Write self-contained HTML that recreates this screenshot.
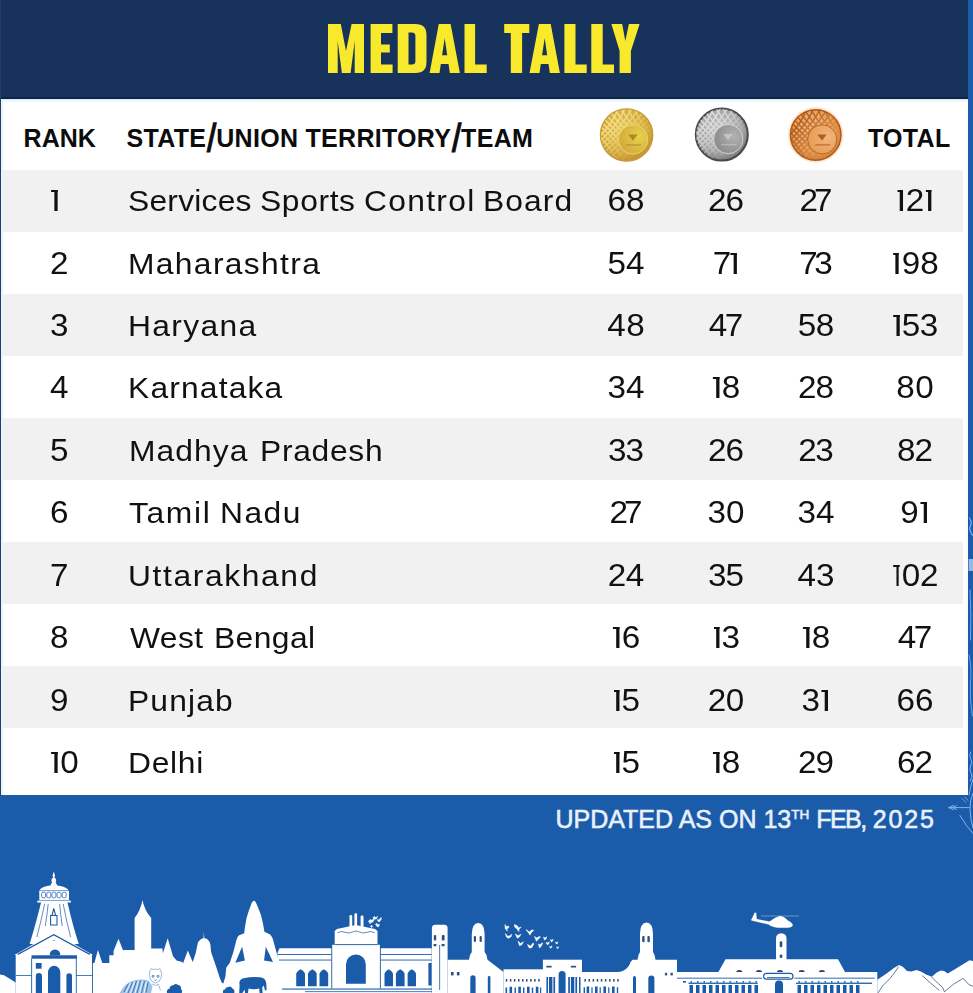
<!DOCTYPE html>
<html>
<head>
<meta charset="utf-8">
<title>Medal Tally</title>
<style>
html,body{margin:0;padding:0;}
body{width:973px;height:993px;position:relative;overflow:hidden;background:#fff;font-family:"Liberation Sans",sans-serif;}
.abs{position:absolute;}
#hdr{left:0;top:0;width:973px;height:99px;background:#17335c;}
#hdrline{left:0;top:97px;width:968px;height:2px;background:#0e2447;}
#lstrip{left:0;top:0;width:1.2px;height:795px;background:#21406c;}
#lstrip2{left:1.2px;top:99px;width:2px;height:696px;background:#e8f6fc;}
#rstrip{left:967.5px;top:0;width:5.5px;height:993px;background:#1b5caa;}
#foot{left:0;top:795px;width:973px;height:198px;background:#1b5caa;}
.row{left:3px;width:960px;height:62px;background:#f1f1f1;}
.h{font-weight:700;font-size:25px;line-height:30px;color:#0c0c0c;white-space:nowrap;}
.sl{display:inline-block;transform:scaleY(1.55) skewX(-9deg);transform-origin:50% 56%;margin:0 1.3px;-webkit-text-stroke:0.8px #0c0c0c;}
.t{font-size:30px;line-height:36px;color:#111;white-space:nowrap;}
.n{font-size:30.5px;line-height:36px;color:#111;white-space:nowrap;text-align:center;width:120px;transform:scaleX(1.09);transform-origin:50% 50%;}
.m{transform:scaleX(1.06);transform-origin:0 50%;}
.r{font-size:30.5px;transform:scaleX(1.09);transform-origin:0 50%;}
.o{display:inline-block;position:relative;width:0.3098em;height:0.7082em;vertical-align:baseline;}
.o:before{content:"";position:absolute;left:0.0481em;top:0;width:0.1835em;height:0.0820em;background:currentColor;}
.o:after{content:"";position:absolute;left:0.1324em;top:0;width:0.0963em;height:100%;background:currentColor;}
#upd{color:#e9f1fb;font-size:25px;-webkit-text-stroke:0.55px #e9f1fb;line-height:30px;white-space:nowrap;}
#upd sup{font-size:13.5px;line-height:0;vertical-align:baseline;position:relative;top:-9px;}
</style>
</head>
<body>
<div id="hdr" class="abs"></div>
<div id="hdrline" class="abs"></div>

<!-- zebra rows -->
<div class="abs row" style="top:170px"></div>
<div class="abs row" style="top:294px"></div>
<div class="abs row" style="top:418px"></div>
<div class="abs row" style="top:542px"></div>
<div class="abs row" style="top:666px"></div>

<div id="foot" class="abs"></div>
<div id="lstrip" class="abs"></div>
<div id="lstrip2" class="abs"></div>
<div id="rstrip" class="abs"></div>

<svg class="abs" style="left:0;top:0" width="973" height="99" viewBox="0 0 973 99">
<g fill="#f8e92c" fill-rule="evenodd">
<path d="M328 24H340.8L346 51L351.6 24H364V73H354.7V41L350.6 73H341.9L337.7 41V73H328Z"/>
<path d="M370.6 24H392.4V33H381V44.4H389.8V52.6H381V64.5H392.6V73H370.6Z"/>
<path d="M397.7 24H415.5Q426.5 24 426.5 35V62Q426.5 73 415.5 73H397.7ZM408.5 32.5V64.5H412Q415.4 64.5 415.4 61V36Q415.4 32.5 412 32.5Z"/>
<path d="M438.8 24H450.6L459.9 73H449.8L448.5 64H440.8L439.5 73H429.6ZM444.7 38L442.1 55.2H447.2Z"/>
<path d="M464.5 24H475.1V64.5H486.7V73H464.5Z"/>
<path d="M504.2 24H529.3V33.1H522.1V73H510.8V33.1H504.2Z"/>
<path d="M538.9 24H550.7L559.9 73H549.8L548.5 64H540.8L539.5 73H529.5ZM544.7 38L542.1 55.2H547.2Z"/>
<path d="M564.4 24H575.5V64.5H586.7V73H564.4Z"/>
<path d="M591.3 24H602.7V64.5H614V73H591.3Z"/>
<path d="M611.4 24H622.2L625.3 41L628.9 24H639.6L630.9 51V73H619.6V51Z"/>
</g>
</svg>

<!-- header labels -->
<div class="abs h" style="left:23.6px;top:122.9px;letter-spacing:0px">RANK</div>
<div class="abs h" style="left:126.6px;top:122.9px;letter-spacing:0.3px">STATE<span class="sl">/</span>UNION TERRITORY<span class="sl">/</span>TEAM</div>
<div class="abs h" style="left:868px;top:122.9px;letter-spacing:0.3px">TOTAL</div>

<!-- MEDALS -->
<svg class="abs" style="left:590px;top:100px" width="270" height="70" viewBox="590 100 270 70">
<defs><filter id="mblur" x="-10%" y="-10%" width="120%" height="120%"><feGaussianBlur stdDeviation="0.6"/></filter></defs>
<defs>
<radialGradient id="mgg" cx="0.45" cy="0.4" r="0.62"><stop offset="0" stop-color="#e4c657"/><stop offset="0.7" stop-color="#d5a93d"/><stop offset="1" stop-color="#c2922e"/></radialGradient>
<radialGradient id="mgi" cx="0.7" cy="0.4" r="0.8"><stop offset="0" stop-color="#e6d24c"/><stop offset="1" stop-color="#d0a43a"/></radialGradient>
<clipPath id="mgc"><circle cx="626.6" cy="135" r="25.6"/></clipPath>
<linearGradient id="mgm" x1="0" y1="0" x2="1" y2="1"><stop offset="0.25" stop-color="#fff"/><stop offset="0.75" stop-color="#000"/></linearGradient>
<mask id="mgk"><rect x="599.8000000000001" y="108.2" width="53.6" height="53.6" fill="url(#mgm)"/></mask>
</defs>
<g filter="url(#mblur)">
<circle cx="626.6" cy="135" r="26.2" fill="url(#mgg)" stroke="#c69a36" stroke-width="1.2"/>
<g mask="url(#mgk)"><g clip-path="url(#mgc)" fill="none" stroke="#fbf0a0" stroke-width="1.4" opacity="0.75"><path d="M564.8 161.8Q607.4 138.0 618.4 108.2"/><path d="M564.8 108.2Q602.4 132.0 618.4 161.8"/><path d="M571.8 161.8Q611.2 138.0 625.4 108.2"/><path d="M571.8 108.2Q606.2 132.0 625.4 161.8"/><path d="M578.8 161.8Q615.1 138.0 632.4 108.2"/><path d="M578.8 108.2Q610.1 132.0 632.4 161.8"/><path d="M585.8 161.8Q618.9 138.0 639.4 108.2"/><path d="M585.8 108.2Q613.9 132.0 639.4 161.8"/><path d="M592.8 161.8Q622.8 138.0 646.4 108.2"/><path d="M592.8 108.2Q617.8 132.0 646.4 161.8"/><path d="M599.8 161.8Q626.6 138.0 653.4 108.2"/><path d="M599.8 108.2Q621.6 132.0 653.4 161.8"/><path d="M606.8 161.8Q630.5 138.0 660.4 108.2"/><path d="M606.8 108.2Q625.5 132.0 660.4 161.8"/><path d="M613.8 161.8Q634.3 138.0 667.4 108.2"/><path d="M613.8 108.2Q629.3 132.0 667.4 161.8"/><path d="M620.8 161.8Q638.1 138.0 674.4 108.2"/><path d="M620.8 108.2Q633.1 132.0 674.4 161.8"/><path d="M627.8 161.8Q642.0 138.0 681.4 108.2"/><path d="M627.8 108.2Q637.0 132.0 681.4 161.8"/><path d="M634.8 161.8Q645.9 138.0 688.4 108.2"/><path d="M634.8 108.2Q640.9 132.0 688.4 161.8"/></g></g>
<circle cx="633.1" cy="139.5" r="14.6" fill="url(#mgi)" stroke="#ecd66a" stroke-width="0.9"/>
<path d="M626.1 145.0H641.1" stroke="#9c761a" stroke-width="1.3" opacity="0.55"/>
<path d="M628.1 134.5h9.5l-4.7 6.2z" fill="#9c761a" opacity="0.75"/>
</g>
<defs>
<radialGradient id="msg" cx="0.45" cy="0.4" r="0.62"><stop offset="0" stop-color="#c6c6c6"/><stop offset="0.7" stop-color="#a4a4a4"/><stop offset="1" stop-color="#767676"/></radialGradient>
<radialGradient id="msi" cx="0.7" cy="0.4" r="0.8"><stop offset="0" stop-color="#b2b2b2"/><stop offset="1" stop-color="#868686"/></radialGradient>
<clipPath id="msc"><circle cx="721.8" cy="134.6" r="25.8"/></clipPath>
<linearGradient id="msm" x1="0" y1="0" x2="1" y2="1"><stop offset="0.25" stop-color="#fff"/><stop offset="0.75" stop-color="#000"/></linearGradient>
<mask id="msk"><rect x="694.8" y="107.6" width="54.0" height="54.0" fill="url(#msm)"/></mask>
</defs>
<g filter="url(#mblur)">
<circle cx="721.8" cy="134.6" r="26.0" fill="url(#msg)" stroke="#4a4a4a" stroke-width="2.0"/>
<g mask="url(#msk)"><g clip-path="url(#msc)" fill="none" stroke="#ffffff" stroke-width="1.4" opacity="0.6"><path d="M659.8 161.6Q702.5 137.6 713.8 107.6"/><path d="M659.8 107.6Q697.5 131.6 713.8 161.6"/><path d="M666.8 161.6Q706.4 137.6 720.8 107.6"/><path d="M666.8 107.6Q701.4 131.6 720.8 161.6"/><path d="M673.8 161.6Q710.2 137.6 727.8 107.6"/><path d="M673.8 107.6Q705.2 131.6 727.8 161.6"/><path d="M680.8 161.6Q714.1 137.6 734.8 107.6"/><path d="M680.8 107.6Q709.1 131.6 734.8 161.6"/><path d="M687.8 161.6Q717.9 137.6 741.8 107.6"/><path d="M687.8 107.6Q712.9 131.6 741.8 161.6"/><path d="M694.8 161.6Q721.8 137.6 748.8 107.6"/><path d="M694.8 107.6Q716.8 131.6 748.8 161.6"/><path d="M701.8 161.6Q725.6 137.6 755.8 107.6"/><path d="M701.8 107.6Q720.6 131.6 755.8 161.6"/><path d="M708.8 161.6Q729.5 137.6 762.8 107.6"/><path d="M708.8 107.6Q724.5 131.6 762.8 161.6"/><path d="M715.8 161.6Q733.3 137.6 769.8 107.6"/><path d="M715.8 107.6Q728.3 131.6 769.8 161.6"/><path d="M722.8 161.6Q737.2 137.6 776.8 107.6"/><path d="M722.8 107.6Q732.2 131.6 776.8 161.6"/><path d="M729.8 161.6Q741.0 137.6 783.8 107.6"/><path d="M729.8 107.6Q736.0 131.6 783.8 161.6"/></g></g>
<circle cx="728.3" cy="139.1" r="14.6" fill="url(#msi)" stroke="#d8d8d8" stroke-width="0.9"/>
<path d="M721.3 144.6H736.3" stroke="#d0d0d0" stroke-width="1.3" opacity="0.55"/>
<path d="M723.3 134.1h9.5l-4.7 6.2z" fill="#d0d0d0" opacity="0.75"/>
</g>
<defs>
<radialGradient id="mbg" cx="0.45" cy="0.4" r="0.62"><stop offset="0" stop-color="#f3ba80"/><stop offset="0.7" stop-color="#e99e58"/><stop offset="1" stop-color="#d27e36"/></radialGradient>
<radialGradient id="mbi" cx="0.7" cy="0.4" r="0.8"><stop offset="0" stop-color="#f2b67c"/><stop offset="1" stop-color="#e6984e"/></radialGradient>
<clipPath id="mbc"><circle cx="815.7" cy="134.9" r="24.8"/></clipPath>
<linearGradient id="mbm" x1="0" y1="0" x2="1" y2="1"><stop offset="0.25" stop-color="#fff"/><stop offset="0.75" stop-color="#000"/></linearGradient>
<mask id="mbk"><rect x="789.7" y="108.9" width="52.0" height="52.0" fill="url(#mbm)"/></mask>
</defs>
<g filter="url(#mblur)">
<circle cx="815.7" cy="134.9" r="27.8" fill="#fde6d0"/>
<circle cx="815.7" cy="134.9" r="25.25" fill="url(#mbg)" stroke="#b05818" stroke-width="1.5"/>
<g mask="url(#mbk)"><g clip-path="url(#mbc)" fill="none" stroke="#9c460a" stroke-width="1.4" opacity="0.75"><path d="M754.7 160.9Q796.5 137.9 806.7 108.9"/><path d="M754.7 108.9Q791.5 131.9 806.7 160.9"/><path d="M761.7 160.9Q800.3 137.9 813.7 108.9"/><path d="M761.7 108.9Q795.3 131.9 813.7 160.9"/><path d="M768.7 160.9Q804.2 137.9 820.7 108.9"/><path d="M768.7 108.9Q799.2 131.9 820.7 160.9"/><path d="M775.7 160.9Q808.0 137.9 827.7 108.9"/><path d="M775.7 108.9Q803.0 131.9 827.7 160.9"/><path d="M782.7 160.9Q811.9 137.9 834.7 108.9"/><path d="M782.7 108.9Q806.9 131.9 834.7 160.9"/><path d="M789.7 160.9Q815.7 137.9 841.7 108.9"/><path d="M789.7 108.9Q810.7 131.9 841.7 160.9"/><path d="M796.7 160.9Q819.6 137.9 848.7 108.9"/><path d="M796.7 108.9Q814.6 131.9 848.7 160.9"/><path d="M803.7 160.9Q823.4 137.9 855.7 108.9"/><path d="M803.7 108.9Q818.4 131.9 855.7 160.9"/><path d="M810.7 160.9Q827.2 137.9 862.7 108.9"/><path d="M810.7 108.9Q822.2 131.9 862.7 160.9"/><path d="M817.7 160.9Q831.1 137.9 869.7 108.9"/><path d="M817.7 108.9Q826.1 131.9 869.7 160.9"/><path d="M824.7 160.9Q835.0 137.9 876.7 108.9"/><path d="M824.7 108.9Q830.0 131.9 876.7 160.9"/></g></g>
<circle cx="822.2" cy="139.4" r="14.6" fill="url(#mbi)" stroke="#b6601e" stroke-width="0.9"/>
<path d="M815.2 144.9H830.2" stroke="#96460e" stroke-width="1.3" opacity="0.55"/>
<path d="M817.2 134.4h9.5l-4.7 6.2z" fill="#96460e" opacity="0.75"/>
</g>
</svg>

<!-- ROWS -->
<div class="abs t r" style="left:50.2px;top:182.25px;letter-spacing:0px"><i class="o"></i></div><div class="abs t m" style="left:128.38px;top:182.75px;letter-spacing:0.21px">Services</div><div class="abs t m" style="left:260.46px;top:182.75px;letter-spacing:0.58px">Sports</div><div class="abs t m" style="left:364.44px;top:182.75px;letter-spacing:1.22px">Control</div><div class="abs t m" style="left:482.54px;top:182.75px;letter-spacing:1.03px">Board</div><div class="abs n" style="left:565.7px;top:182.25px;letter-spacing:0.11px;text-indent:0.11px">68</div><div class="abs n" style="left:666.2px;top:182.25px;letter-spacing:-0.81px;text-indent:-0.81px">26</div><div class="abs n" style="left:755.9px;top:182.25px;letter-spacing:-3.56px;text-indent:-3.56px">27</div><div class="abs n" style="left:854.5px;top:182.25px;letter-spacing:-0.27px;text-indent:0px"><i class="o" style="margin-right:-0.27px"></i>2<i class="o"></i></div>
<div class="abs t r" style="left:50.3px;top:245.25px;letter-spacing:0px">2</div><div class="abs t m" style="left:128.22px;top:245.75px;letter-spacing:1.26px">Maharashtra</div><div class="abs n" style="left:565.7px;top:245.25px;letter-spacing:0.11px;text-indent:0.11px">54</div><div class="abs n" style="left:666.2px;top:245.25px;letter-spacing:-2.29px;text-indent:0px">7<i class="o"></i></div><div class="abs n" style="left:755.9px;top:245.25px;letter-spacing:-3.1px;text-indent:-3.1px">73</div><div class="abs n" style="left:854.5px;top:245.25px;letter-spacing:0.01px;text-indent:0.01px"><i class="o" style="margin-right:0.01px"></i>98</div>
<div class="abs t r" style="left:50.3px;top:307.25px;letter-spacing:0px">3</div><div class="abs t m" style="left:127.88px;top:307.75px;letter-spacing:1.27px">Haryana</div><div class="abs n" style="left:565.7px;top:307.25px;letter-spacing:0.57px;text-indent:0.57px">48</div><div class="abs n" style="left:666.2px;top:307.25px;letter-spacing:-2.19px;text-indent:-2.19px">47</div><div class="abs n" style="left:755.9px;top:307.25px;letter-spacing:-0.35px;text-indent:-0.35px">58</div><div class="abs n" style="left:854.5px;top:307.25px;letter-spacing:-0.45px;text-indent:-0.45px"><i class="o" style="margin-right:-0.45px"></i>53</div>
<div class="abs t r" style="left:50.3px;top:369.25px;letter-spacing:0px">4</div><div class="abs t m" style="left:127.88px;top:369.75px;letter-spacing:1.1px">Karnataka</div><div class="abs n" style="left:565.7px;top:369.25px;letter-spacing:0.11px;text-indent:0.11px">34</div><div class="abs n" style="left:666.2px;top:369.25px;letter-spacing:-0.45px;text-indent:-0.45px"><i class="o" style="margin-right:-0.45px"></i>8</div><div class="abs n" style="left:755.9px;top:369.25px;letter-spacing:-0.81px;text-indent:-0.81px">28</div><div class="abs n" style="left:854.5px;top:369.25px;letter-spacing:0.57px;text-indent:0.57px">80</div>
<div class="abs t r" style="left:50.3px;top:432.25px;letter-spacing:0px">5</div><div class="abs t m" style="left:128.8px;top:432.75px;letter-spacing:1.02px">Madhya</div><div class="abs t m" style="left:259.54px;top:432.75px;letter-spacing:0.65px">Pradesh</div><div class="abs n" style="left:565.7px;top:432.25px;letter-spacing:-0.81px;text-indent:-0.81px">33</div><div class="abs n" style="left:666.2px;top:432.25px;letter-spacing:-0.81px;text-indent:-0.81px">26</div><div class="abs n" style="left:755.9px;top:432.25px;letter-spacing:-1.27px;text-indent:-1.27px">23</div><div class="abs n" style="left:854.5px;top:432.25px;letter-spacing:-0.81px;text-indent:-0.81px">82</div>
<div class="abs t r" style="left:50.3px;top:494.25px;letter-spacing:0px">6</div><div class="abs t m" style="left:129.26px;top:494.75px;letter-spacing:1.54px">Tamil</div><div class="abs t m" style="left:219.54px;top:494.75px;letter-spacing:1.39px">Nadu</div><div class="abs n" style="left:565.7px;top:494.25px;letter-spacing:-3.56px;text-indent:-3.56px">27</div><div class="abs n" style="left:666.2px;top:494.25px;letter-spacing:0.11px;text-indent:0.11px">30</div><div class="abs n" style="left:755.9px;top:494.25px;letter-spacing:0.11px;text-indent:0.11px">34</div><div class="abs n" style="left:854.5px;top:494.25px;letter-spacing:0.47px;text-indent:0px">9<i class="o"></i></div>
<div class="abs t r" style="left:50.3px;top:557.25px;letter-spacing:0px">7</div><div class="abs t m" style="left:127.88px;top:557.75px;letter-spacing:1.52px">Uttarakhand</div><div class="abs n" style="left:565.7px;top:557.25px;letter-spacing:-0.35px;text-indent:-0.35px">24</div><div class="abs n" style="left:666.2px;top:557.25px;letter-spacing:-0.81px;text-indent:-0.81px">35</div><div class="abs n" style="left:755.9px;top:557.25px;letter-spacing:0.11px;text-indent:0.11px">43</div><div class="abs n" style="left:854.5px;top:557.25px;letter-spacing:-0.22px;text-indent:-0.22px"><i class="o" style="margin-right:-0.22px"></i>02</div>
<div class="abs t r" style="left:50.3px;top:619.25px;letter-spacing:0px">8</div><div class="abs t m" style="left:129.68px;top:619.75px;letter-spacing:0.37px">West</div><div class="abs t m" style="left:213.54px;top:619.75px;letter-spacing:0.38px">Bengal</div><div class="abs n" style="left:565.7px;top:619.25px;letter-spacing:-0.45px;text-indent:-0.45px"><i class="o" style="margin-right:-0.45px"></i>6</div><div class="abs n" style="left:666.2px;top:619.25px;letter-spacing:-0.91px;text-indent:-0.91px"><i class="o" style="margin-right:-0.91px"></i>3</div><div class="abs n" style="left:755.9px;top:619.25px;letter-spacing:-0.45px;text-indent:-0.45px"><i class="o" style="margin-right:-0.45px"></i>8</div><div class="abs n" style="left:854.5px;top:619.25px;letter-spacing:-2.19px;text-indent:-2.19px">47</div>
<div class="abs t r" style="left:50.3px;top:682.25px;letter-spacing:0px">9</div><div class="abs t m" style="left:127.88px;top:682.75px;letter-spacing:1.09px">Punjab</div><div class="abs n" style="left:565.7px;top:682.25px;letter-spacing:-0.91px;text-indent:-0.91px"><i class="o" style="margin-right:-0.91px"></i>5</div><div class="abs n" style="left:666.2px;top:682.25px;letter-spacing:-0.35px;text-indent:-0.35px">20</div><div class="abs n" style="left:755.9px;top:682.25px;letter-spacing:0.01px;text-indent:0px">3<i class="o"></i></div><div class="abs n" style="left:854.5px;top:682.25px;letter-spacing:0.11px;text-indent:0.11px">66</div>
<div class="abs t r" style="left:50.2px;top:744.25px;letter-spacing:0.01px"><i class="o" style="margin-right:0.01px"></i>0</div><div class="abs t m" style="left:127.88px;top:744.75px;letter-spacing:0.65px">Delhi</div><div class="abs n" style="left:565.7px;top:744.25px;letter-spacing:-0.91px;text-indent:-0.91px"><i class="o" style="margin-right:-0.91px"></i>5</div><div class="abs n" style="left:666.2px;top:744.25px;letter-spacing:-0.45px;text-indent:-0.45px"><i class="o" style="margin-right:-0.45px"></i>8</div><div class="abs n" style="left:755.9px;top:744.25px;letter-spacing:-0.81px;text-indent:-0.81px">29</div><div class="abs n" style="left:854.5px;top:744.25px;letter-spacing:-0.81px;text-indent:-0.81px">62</div>

<!-- FOOTER -->
<div id="upd" class="abs" style="left:555.5px;top:803.5px">UPDATED AS ON 13<sup>TH</sup> <span style="letter-spacing:-1.5px">FEB,</span> <span style="letter-spacing:1.9px">2025</span></div>

<!-- DECO -->
<div class="abs" style="left:2px;top:99px;width:966px;height:4px;background:linear-gradient(#d6e8f4,#f4fafd 60%,#fff)"></div>
<svg class="abs" style="left:940px;top:500px" width="33" height="360" viewBox="940 500 33 360">
<g fill="none" stroke="#7db4ec" stroke-width="1" stroke-linecap="round">
<path d="M948.6 807.6H969.5"/>
<path d="M953.5 805.4L948.8 807.6L953.5 809.8M956.5 805.6L952.6 807.6L956.5 809.6"/>
<path d="M973 793Q969.6 801 970 809Q970.4 820 973 828"/>
<path d="M960 815.5Q966 826 973 833.5"/>
<path d="M962 798.5L966 802.5M964.8 797L968 800.5" stroke-width="0.8"/>
<path d="M970.5 752Q968.6 756 971 759.5Q973 762 970.5 766Q968.8 770 971.5 774Q973 777 970.2 781"/>
<path d="M969 795Q970.5 786 973 779"/>
<path d="M969.5 518Q972.5 522 970 527Q969 531 972.5 535" stroke-width="1.2"/>
<path d="M970 590Q971.5 615 970.5 640" stroke-width="0.9"/>
<path d="M969 655Q972 668 970.4 684Q969.6 700 972.4 716" stroke-width="0.8"/>
</g>
<rect x="968.6" y="559" width="4.4" height="12" fill="#a9c9ee" opacity="0.85"/>
</svg>

<!-- SKYLINE -->
<svg class="abs" style="left:0;top:860px" width="973" height="133" viewBox="0 860 973 133">
<g fill="#fff">
<!-- left hill -->
<path d="M0 974.5L4 975.2L15.7 982.5V993H0Z"/>
<!-- temple -->
<path d="M53.8 871.5L55 875.5L54.4 877.5Q57.2 879.5 55.6 882.5L57.5 885.8H50.1L52 882.5Q50.4 879.5 53.2 877.5L52.6 875.5Z"/>
<path d="M39.3 891.5Q39.5 887.5 47 886Q53.8 884.6 60.6 886Q68.2 887.5 69 891.5Z"/>
<rect x="39.3" y="890.5" width="29.7" height="10.5"/>
<rect x="37.3" y="900.3" width="33.6" height="2.2"/>
<path d="M41.2 902H67.4Q72.8 926 78.8 944H29.6Q35.2 926 41.2 902Z"/>
<path d="M53.8 932.3L93 955H14.5Z"/>
<rect x="15.7" y="954" width="76.3" height="39"/>
<!-- castle + dome + shiva -->
<path d="M92.6 993V963H94.4L97.9 950L102.3 963H109.3V955.3H113.6V951L118.5 938.7L123.3 951V950H134.6V918Q140.2 911 142.5 900.2Q144.8 911 151.2 918V948.6H162.4L162.9 953.3L167.7 938.2L173 956.2L176.6 960.5L182.3 962L183 963.4L187.8 950.4L192.7 962L193.8 959L196 951.9L197.4 944.7Q198.2 940.8 200.5 939.4Q202.5 938.2 203.5 938.2L203.9 931.7L204.3 938.2Q206 938.2 207.6 939.6Q209.8 941.5 210.4 944.7L211.1 951.9L214 960.5L216.9 969.1L219.7 977.8L221.9 982.8L223.3 983.5L225.5 976.3L226.2 967.7L229.8 962.7L233.4 951.9L236.3 940.4Q237.4 936.4 239.2 935.3L244.2 933.2L244.9 927.4L246.4 918.8L248.5 911.6L250.7 905.8Q252 901.2 253.8 900.8Q255.2 900.8 255.9 902.4L257.9 907.3L260.8 914.5L262.9 923.1L264.4 931.7L270.1 934.6Q272 936.6 273 939.6L275.1 947.6L278 957.6L280.9 964.8L282.4 970.6V993Z"/>
<!-- building A (wings + centre) -->
<path d="M277.5 993V953L279.5 948.3H431.7V993Z"/>
<rect x="332" y="944.8" width="48" height="48"/>
<path d="M334.7 944.8V931L337 929L355.7 925L375 929L377.5 931V944.8Z"/>
<rect x="349.5" y="915" width="2.7" height="13" rx="1.2"/>
<rect x="354.4" y="913.3" width="2.7" height="14" rx="1.2"/>
<rect x="360.6" y="915.6" width="2.9" height="13" rx="1.2"/>
<!-- tower 1 -->
<path d="M431.9 993V928Q431.9 925 435 924.8H444.5Q447.6 925 447.6 928V993Z"/>
<!-- building B with dome tower -->
<path d="M447.6 993V959.7H469L470 955L471.8 952V934Q472 923.4 478.2 923Q484.4 923.4 484.6 934V952L486.5 955L487.5 959.7L503.5 972V993Z"/>
<!-- building C -->
<rect x="503.5" y="969.3" width="39.5" height="24"/>
<!-- building D -->
<rect x="542.9" y="959.7" width="39.1" height="34"/>
<!-- building E -->
<path d="M582 993V972H617Q624 972 628 967Q630.5 963 632.5 959.7V993Z"/>
<!-- building F -->
<path d="M630 993V963L632.5 959.7H637.5L638.5 955L640 952V934Q640.2 923 646.5 922.6Q652.8 923 653 934V952L654.5 955L655.5 959.7H677V993Z"/>
<!-- station G -->
<path d="M677 993V972H718.4L725.5 959.3H838L845 972H877.3V993Z"/>
<path d="M776 960V938.5Q776 933.6 781.3 933.3Q786.5 933.6 786.5 938.5V960Z"/>
<!-- helicopter -->
<path d="M751 920.2L754.8 912.6L756.2 912.8L756.8 919L769.5 921.6Q774 917.6 779.5 916Q784.5 916.2 787.5 920.2Q792.6 922.8 792.8 925.2Q792.4 927.6 787.5 927.8H777.5Q771.5 927.2 768.6 924.6L753.4 921Z"/>
<!-- mountains -->
<path d="M877.3 993V979.8L885.9 974.1L894.3 967.8L899.1 965.1L902.8 966.7L907 970.9L911.3 971.5L916.6 969.9L920.8 971.5L926.1 974.6L931.9 976.8L936.7 972.5L940.9 970.4L944.1 970.9L947.8 973.6L953.6 969.9L961 965.6L969.5 960.3L973 960.9V993Z"/>
</g>
<path d="M761 916H799" stroke="#cfe0f4" stroke-width="0.6" opacity="0.7"/>
<!-- birds -->
<g fill="#fff" stroke="#fff" stroke-width="0.55" stroke-linejoin="round">
<path d="M368.5 921l2-1.5 1.5 1 1.5-2 0.8 1.2-1.8 2.5-1.6 0-0.8 1.6z"/>
<path d="M373 917.5l1.6-1 1.2 1.2 1.8-1.4-1.2 2.6-2 0.2z"/>
<path d="M377.5 919.5l1.5 0.5 2-2.5 0.5 1.2-2 3-1.6-0.4z"/>
<path d="M375.5 924l1.5-0.6 1 1.6 1.4-1 -0.6 2.6-1.8 0z"/>
<path d="M370.5 926l1.2-0.6 1 1.2-1.2 1z"/>
<path d="M505 924.5l1.8 2.6 1.6-1.2 0.6 1.4-2.2 1.8 0.6 2-2.2-2.6z"/>
<path d="M505.5 933.5l2 2.8 2.6-0.6 1.6-1.6-0.6 2.6-2.8 1.6-2-1.4z"/>
<path d="M514.5 924.5l3 1.4 1 2 2.6-0.8-2 2.2-0.4 2.2-1.6-2.6-2.4-1.8z"/>
<path d="M515.5 934l2.6 1.8 2.8-1.6-1.4 2.6-2 1.4-1.2-2z"/>
<path d="M518 941l2.4 2.6 3-1.8-1.4 2.8-2.4 1.2z"/>
<path d="M526 929.5l3.4 2.6 2-2 2.4 0.2-2.8 2.6-1 2.2-1.6-2.4z"/>
<path d="M527.5 944.5l3.2 1.6 2.4-3.2 0.8 1-2.4 4-2.4 0z"/>
<path d="M534.5 936.5l2.4 1.6 2.2-1.6 1.4 0.4-2.6 2.6-1.4 1.8z"/>
<path d="M538.5 944l1.8 0.8 1.6-2 0.8 0.8-1.8 3-1.4 1.4z"/>
<path d="M543.5 937l1.6 1 1.6-1.2-0.6 2.2-1.6 1z"/>
<path d="M546 942.5l1.6 0.6 1.4-1.4 0 1.8-1.6 1.4z"/>
<path d="M550.5 939.5l1.4 0.8 1.2-1 -0.4 1.8-1.4 0.8z"/>
<path d="M549.5 946.5l1.2 0.4 1-1.2 0.2 1.6-1.4 1z"/>
<path d="M555.5 942l1.2 0.6 1-0.8-0.2 1.6-1.2 0.6z"/>
<path d="M556.5 947l1 0.4 0.8-0.8 0 1.4-1 0.6z"/>
</g>
<!-- blue details -->
<g fill="#1b5caa">
<!-- temple details -->
<path d="M55 949.5A5.3 5.3 0 0 1 60.3 955.5H49.7A5.3 5.3 0 0 1 55 949.5Z"/>
<rect x="31.5" y="955.3" width="45.5" height="3.4"/>
<path d="M48 993V972A6.15 6.15 0 0 1 60.3 972V993Z"/>
<path d="M35.8 993V976A3.1 3.1 0 0 1 42 976V993Z"/>
<path d="M66.4 993V976A2.8 2.8 0 0 1 72 976V993Z"/>
<rect x="35.8" y="963" width="5.8" height="5.7"/>
<rect x="31.2" y="958.5" width="0.9" height="34.5"/>
<rect x="75.8" y="958.5" width="0.9" height="34.5"/>
<rect x="15.7" y="975.2" width="15.8" height="0.8"/>
<rect x="76" y="975.2" width="16" height="0.8"/>
<rect x="92" y="957" width="0.7" height="36"/>
<!-- shiva arm gaps -->
<path d="M235.3 962.7L242.1 946.8L244.9 960.5Z"/>
<path d="M264.1 960.5L265.8 946.8L273 962Z"/>
<!-- elephant -->
<path d="M239.2 993L239.6 985Q238.4 979.4 243.5 978.2Q252 976.4 260 977.2Q265.2 977.8 266.2 982.5L266.6 990L265 990.6L263.8 985.5L262.2 987.5L262.6 993H259.6L259.2 988.6Q253 990 248.6 988.6L248 993H245L244.6 989.4L242.4 993Z"/>
<!-- bushes -->
<path d="M167 993Q166 989.5 169.5 988.8Q169.8 985 173.5 985.2Q175.5 983 178 985Q181.6 985.4 181 989Q183 990.5 181.8 993Z"/>
<path d="M223 993Q222.4 990 225 989.6Q225.6 986.6 228.6 987Q231.2 985.8 232.2 988.4Q235 989 234.3 993Z"/>
<!-- building A details -->
<rect x="277.5" y="954" width="54" height="0.9"/>
<rect x="279" y="959.6" width="52.5" height="0.9"/>
<rect x="380.5" y="954" width="51.2" height="0.9"/>
<rect x="380.5" y="959.6" width="51.2" height="0.9"/>
<rect x="331.3" y="944.8" width="0.9" height="43.7"/>
<rect x="379.9" y="944.8" width="0.9" height="43.7"/>
<rect x="334.7" y="944.2" width="42.8" height="0.9"/><path d="M337.5 932.8Q341 930.6 345 932.2Q349 934 352.5 932Q356 930 359.5 932Q363 934 367 932.2Q371 930.6 374.8 932.8" fill="none" stroke="#1b5caa" stroke-width="0.7"/>
<path d="M346 983.8V964.3A9.9 9.9 0 0 1 365.8 964.3V983.8Z"/>
<path d="M296.2 986.2V974Q296.2 972 300.6 969.3Q305 972 305 974V986.2Z"/>
<path d="M308 986.2V974Q308 972 312.4 969.3Q316.7 972 316.7 974V986.2Z"/>
<path d="M319.5 986.2V974Q319.5 972 323.9 969.3Q328.2 972 328.2 974V986.2Z"/>
<path d="M384.5 986.2V974Q384.5 972 388.8 969.3Q393 972 393 974V986.2Z"/>
<path d="M395.9 986.2V974Q395.9 972 400.2 969.3Q404.6 972 404.6 974V986.2Z"/>
<path d="M407.6 986.2V974Q407.6 972 411.8 969.3Q416 972 416 974V986.2Z"/>
<rect x="428.4" y="963" width="3.2" height="22.5"/>
<rect x="282" y="988.5" width="150" height="1.1"/>
<rect x="305" y="991.3" width="127" height="0.8"/>
<!-- tower 1 -->
<rect x="439.3" y="945" width="0.8" height="45"/>
<!-- building B -->
<path d="M470.3 993V978A2.65 2.65 0 0 1 475.6 978V993Z"/>
<path d="M487.8 993V977.3A1.3 1.3 0 0 1 490.4 977.3V993Z"/>
<!-- building C windows lower -->
<path d="M505.5 987.6h1.6V993h-1.6zM509.5 986.8h2.6V993h-2.6zM514.5 987.6h1.4V993h-1.4zM518.3 986.8h2.6V993h-2.6zM523 987.6h1.4V993h-1.4zM527 986.8h2.6V993h-2.6zM531.8 987.6h1.4V993h-1.4zM535.8 986.8h2.6V993h-2.6zM540 987.6h1.2V993h-1.2z"/>
<!-- building D -->
<path d="M546.4 993V977h1.6v16zM549 993V977h3.4v16zM553.4 993V977h1.7v16z"/>
<path d="M558.6 993V974.5A3.5 3.5 0 0 1 565.6 974.5V993Z"/>
<path d="M568.2 993V977h1.7v16zM570.9 993V977h3.4v16zM575.4 993V977h1.7v16zM579 993V977h1.5v16z"/>
<!-- building E lower windows -->
<path d="M583.6 987.2h1.4V993h-1.4zM586.6 986.4h2.6V993h-2.6zM591.4 987.2h1.2V993h-1.2zM595 986.4h2.6V993h-2.6zM599.6 987.2h1.2V993h-1.2zM603.4 986.4h2.6V993h-2.6zM608.2 987.2h1.2V993h-1.2zM612 986.4h2.6V993h-2.6zM616.8 987.2h1.4V993h-1.4z"/>
<!-- building F -->
<path d="M633 993V977.5A1.5 1.5 0 0 1 636 977.5V993Z"/>
<path d="M648.3 993V978.5A3.05 3.05 0 0 1 654.4 978.5V993Z"/>
<!-- station G -->
<rect x="677" y="977.7" width="85" height="0.9"/>
<rect x="794.4" y="977.7" width="80.3" height="0.9"/>
<rect x="688.5" y="982.6" width="69.2" height="1.3"/>
<rect x="796" y="982.6" width="76" height="1.3"/>
<rect x="763.6" y="973.4" width="29.4" height="5.8" rx="2.9" fill="none" stroke="#1b5caa" stroke-width="1.2"/>
<rect x="767" y="977.2" width="22.5" height="0.8"/>
<path d="M775 993V984.6A4 4 0 0 1 783 984.6V993Z"/>
<path d="M736.3 972A3 2 0 0 1 742.3 972ZM756 972A3 2 0 0 1 762 972ZM777 972A3 2 0 0 1 783 972ZM798.7 972A3 2 0 0 1 804.7 972ZM818.9 972A3 2 0 0 1 824.9 972Z" fill="#27466e"/>
<rect x="689.5" y="985" width="3.5" height="8"/><circle cx="691.25" cy="981.8" r="0.9"/><rect x="696.0" y="985" width="3.5" height="8"/><circle cx="697.75" cy="981.8" r="0.9"/><rect x="702.5" y="985" width="3.5" height="8"/><circle cx="704.25" cy="981.8" r="0.9"/><rect x="709.0" y="985" width="3.5" height="8"/><circle cx="710.75" cy="981.8" r="0.9"/><rect x="715.5" y="985" width="3.5" height="8"/><circle cx="717.25" cy="981.8" r="0.9"/><rect x="722.0" y="985" width="3.5" height="8"/><circle cx="723.75" cy="981.8" r="0.9"/><rect x="728.5" y="985" width="3.5" height="8"/><circle cx="730.25" cy="981.8" r="0.9"/><rect x="735.0" y="985" width="3.5" height="8"/><circle cx="736.75" cy="981.8" r="0.9"/><rect x="741.5" y="985" width="3.5" height="8"/><circle cx="743.25" cy="981.8" r="0.9"/><rect x="748.0" y="985" width="3.5" height="8"/><circle cx="749.75" cy="981.8" r="0.9"/><rect x="754.5" y="985" width="3.5" height="8"/><circle cx="756.25" cy="981.8" r="0.9"/><rect x="797.5" y="985" width="3.5" height="8"/><circle cx="799.25" cy="981.8" r="0.9"/><rect x="804.0" y="985" width="3.5" height="8"/><circle cx="805.75" cy="981.8" r="0.9"/><rect x="810.5" y="985" width="3.5" height="8"/><circle cx="812.25" cy="981.8" r="0.9"/><rect x="817.0" y="985" width="3.5" height="8"/><circle cx="818.75" cy="981.8" r="0.9"/><rect x="823.5" y="985" width="3.5" height="8"/><circle cx="825.25" cy="981.8" r="0.9"/><rect x="830.0" y="985" width="3.5" height="8"/><circle cx="831.75" cy="981.8" r="0.9"/><rect x="836.5" y="985" width="3.5" height="8"/><circle cx="838.25" cy="981.8" r="0.9"/><rect x="843.0" y="985" width="3.5" height="8"/><circle cx="844.75" cy="981.8" r="0.9"/><rect x="849.5" y="985" width="3.5" height="8"/><circle cx="851.25" cy="981.8" r="0.9"/><rect x="856.0" y="985" width="3.5" height="8"/><circle cx="857.75" cy="981.8" r="0.9"/></g>
<g fill="#2f4f7c"><rect x="433.8" y="935" width="2.4" height="5.6" rx="1"/><rect x="441.8" y="935" width="2.8" height="5.6" rx="1"/><rect x="433.6" y="944" width="2.8" height="2.2"/><rect x="441.6" y="944" width="3" height="2.2"/><rect x="473.8" y="936" width="2.2" height="6" rx="1"/><rect x="479.6" y="936" width="2.2" height="6" rx="1"/><rect x="451" y="972" width="2.6" height="3.4"/><rect x="456.9" y="972" width="2.6" height="3.4"/><rect x="505.8" y="979" width="1.5" height="2.6"/><rect x="509.9" y="979" width="1.5" height="2.6"/><rect x="513.9" y="979" width="1.5" height="2.6"/><rect x="518.0" y="979" width="1.5" height="2.6"/><rect x="522.0" y="979" width="1.5" height="2.6"/><rect x="526.0" y="979" width="1.5" height="2.6"/><rect x="530.1" y="979" width="1.5" height="2.6"/><rect x="534.1" y="979" width="1.5" height="2.6"/><rect x="538.2" y="979" width="1.5" height="2.6"/><rect x="546.4" y="965.8" width="5.2" height="1.7"/><rect x="570.8" y="965.8" width="5.3" height="1.7"/><rect x="584.4" y="979" width="1.5" height="2.6"/><rect x="588.5" y="979" width="1.5" height="2.6"/><rect x="592.6" y="979" width="1.5" height="2.6"/><rect x="596.7" y="979" width="1.5" height="2.6"/><rect x="600.8" y="979" width="1.5" height="2.6"/><rect x="604.9" y="979" width="1.5" height="2.6"/><rect x="609.0" y="979" width="1.5" height="2.6"/><rect x="613.1" y="979" width="1.5" height="2.6"/><rect x="617.2" y="979" width="1.5" height="2.6"/><rect x="642.2" y="936" width="2.4" height="6.2" rx="1"/><rect x="647.4" y="936" width="2.4" height="6.2" rx="1"/><rect x="664.9" y="972.8" width="2.2" height="2.6"/><rect x="670.5" y="972.8" width="2.3" height="2.6"/><rect x="683" y="981" width="3" height="1.6"/><rect x="779.7" y="941.3" width="2.6" height="6" rx="1.2"/><rect x="779.7" y="954.4" width="2.6" height="3.6" rx="1.2"/></g>
<g fill="none" stroke="#526a80" stroke-width="0.9"><path d="M877.9 993L882.7 985.8L889.6 978.9L894.3 973L898.6 966.7"/><path d="M922.4 975.7L929.3 982L935.6 987.3L939.3 990.5"/><path d="M931.4 976.8L937.7 983.1L942.5 987.3L944.6 992"/><path d="M944.6 991.6L953.6 984.2L963.2 978.3L969 984.7L973 986.3"/></g>
<!-- temple fine details -->
<g fill="#fff" stroke="#1b5caa" stroke-width="0.75">
<rect x="41.6" y="892.2" width="4" height="5.6" rx="1.6"/><rect x="46.8" y="892.2" width="4" height="5.6" rx="1.6"/><rect x="51.9" y="892.2" width="4" height="5.6" rx="1.6"/><rect x="57" y="892.2" width="4" height="5.6" rx="1.6"/><rect x="62.2" y="892.2" width="4" height="5.6" rx="1.6"/>
</g>
<g fill="none" stroke="#1b5caa">
<path d="M39.3 890.6H69" stroke-width="0.6"/>
<path d="M37.3 900.4H70.9" stroke-width="0.6"/>
<path d="M44.6 904Q41 922 36.8 937M48.2 904Q47 915 45.3 926M59.6 904Q60.6 915 62.2 926M63.2 904Q66.6 922 70.6 937" stroke-width="0.7"/>
<path d="M50.6 925V915.5H57V925ZM52 915.5L53.8 908.5L55.6 915.5" stroke-width="1.1"/>
<path d="M17.8 954.4L53.8 934.8L89.8 954.4" stroke-width="1.2"/>
<path d="M52.8 940.5h2" stroke-width="0.6"/>
</g>
<!-- tiger -->
<path d="M119.5 993L124 986.5Q128.5 981.5 136 980Q144 978.8 149 981L152.5 986.5L151 993Z" fill="#9dc1e6"/>
<g fill="none" stroke="#2f6fb8" stroke-width="0.9">
<path d="M124 992L128.5 983.5M128 993L132.5 982M132.5 993L136.5 981M137 993L140.5 980.5M141.5 993L144.5 981M146 992.5L148 982.5"/>
</g>
<g fill="none" stroke="#ffffff" stroke-width="0.9">
<path d="M126 992.5L130.5 983M130.5 993L134.5 981.5M135 993L138.5 980.8M139.5 993L142.6 980.8M144 993L146.4 981.6"/>
</g>
<g fill="none" stroke="#7fa9d6" stroke-width="0.8">
<path d="M150.2 970.2L151.3 968.6L153.2 969.6Q155.5 968.6 157.8 969.6L159.8 968.6L160.8 970.4Q162.4 974 161 978.2Q159.4 982.4 155.5 983.2Q151.4 982.6 150 978.4Q148.6 974 150.2 970.2Z"/>
<path d="M153 975.4a1 1 0 1 0 0.1 0M158 975.4a1 1 0 1 0 0.1 0M154.4 979.8Q155.6 981 156.8 979.8" stroke="#2f6fb8"/>
<path d="M152 984Q155 986.5 158.6 984.5L160.5 990.5" />
</g>
</svg>

</body>
</html>
